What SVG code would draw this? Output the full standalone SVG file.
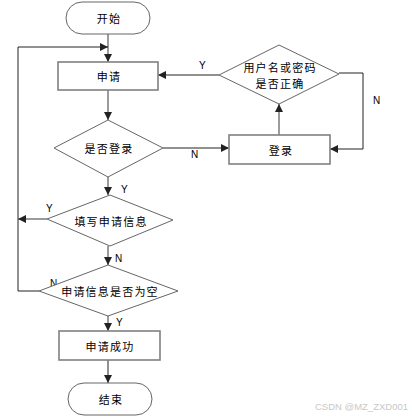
<svg xmlns="http://www.w3.org/2000/svg" width="412" height="419" viewBox="0 0 412 419">
<defs>
<style>
.t{font-family:"Noto Sans CJK SC","Liberation Sans",sans-serif;font-size:11px;letter-spacing:1.2px;fill:#000;text-anchor:middle;dominant-baseline:central}
.l{font-family:"Liberation Sans",Arial,sans-serif;font-size:10px;fill:#000}
.box{fill:#fff;stroke:#808080;stroke-width:1.6}
.dia{fill:#fff;stroke:#666;stroke-width:1}
.term{fill:#fff;stroke:#666;stroke-width:1}
.c{fill:none;stroke:#595959;stroke-width:1.2}
.k{fill:none;stroke:#222;stroke-width:1}
</style>
<marker id="a" viewBox="0 0 10 10" refX="10" refY="5" markerWidth="8" markerHeight="8" markerUnits="userSpaceOnUse" orient="auto"><path d="M0,0 L10,5 L0,10 z" fill="#222"/></marker>
</defs>
<rect width="412" height="419" fill="#fff"/>
<g id="connectors">
<path class="c" d="M108,34 V62" marker-end="url(#a)"/>
<path class="k" d="M39,291 H18 V47 H108" marker-end="url(#a)"/>
<path class="c" d="M108,90 V120" marker-end="url(#a)"/>
<path class="k" d="M163,148 H229" marker-end="url(#a)"/>
<path class="c" d="M279,135 V104" marker-end="url(#a)"/>
<path class="k" d="M219,75 H158" marker-end="url(#a)"/>
<path class="k" d="M339,73 H363 V149 H330" marker-end="url(#a)"/>
<path class="c" d="M108,177 V195" marker-end="url(#a)"/>
<path class="c" d="M47,219 H18" marker-end="url(#a)"/>
<path class="c" d="M108,246 V265" marker-end="url(#a)"/>
<path class="c" d="M108,316 V331" marker-end="url(#a)"/>
<path class="k" d="M108,360 V383" marker-end="url(#a)"/>
<text class="l" x="199" y="69">Y</text>
<text class="l" x="373" y="104">N</text>
<text class="l" x="191" y="158">N</text>
<text class="l" x="121" y="193">Y</text>
<text class="l" x="46" y="212">Y</text>
<text class="l" x="115" y="262">N</text>
<text class="l" x="50" y="287">N</text>
<text class="l" x="116" y="326">Y</text>
</g>
<g id="start"><rect class="term" x="66" y="2" width="84" height="32" rx="16"/><text class="t" x="109" y="18">开始</text></g>
<g id="apply"><rect class="box" x="58" y="62" width="100" height="28"/><text class="t" x="109" y="76">申请</text></g>
<g id="isLogin"><polygon class="dia" points="108,120 163,148 108,177 54,148"/><text class="t" x="109" y="148">是否登录</text></g>
<g id="login"><rect class="box" x="229" y="135" width="101" height="29"/><text class="t" x="281" y="150">登录</text></g>
<g id="check"><polygon class="dia" points="279,45 339,74 279,104 219,75"/><text class="t" x="280" y="67">用户名或密码</text><text class="t" x="280" y="83">是否正确</text></g>
<g id="fill"><polygon class="dia" points="110,195 173,220 110,246 47,219"/><text class="t" x="111" y="221">填写申请信息</text></g>
<g id="empty"><polygon class="dia" points="108,265 178,291 108,316 39,291"/><text class="t" x="110" y="291">申请信息是否为空</text></g>
<g id="success"><rect class="box" x="59" y="331" width="101" height="29"/><text class="t" x="110" y="346">申请成功</text></g>
<g id="end"><rect class="term" x="68" y="383" width="84" height="32" rx="16"/><text class="t" x="111" y="399">结束</text></g>
<text x="408" y="410" text-anchor="end" style="font-family:'Liberation Sans',Arial,sans-serif;font-size:9.5px;fill:#c8c8c8">CSDN @MZ_ZXD001</text>
</svg>
